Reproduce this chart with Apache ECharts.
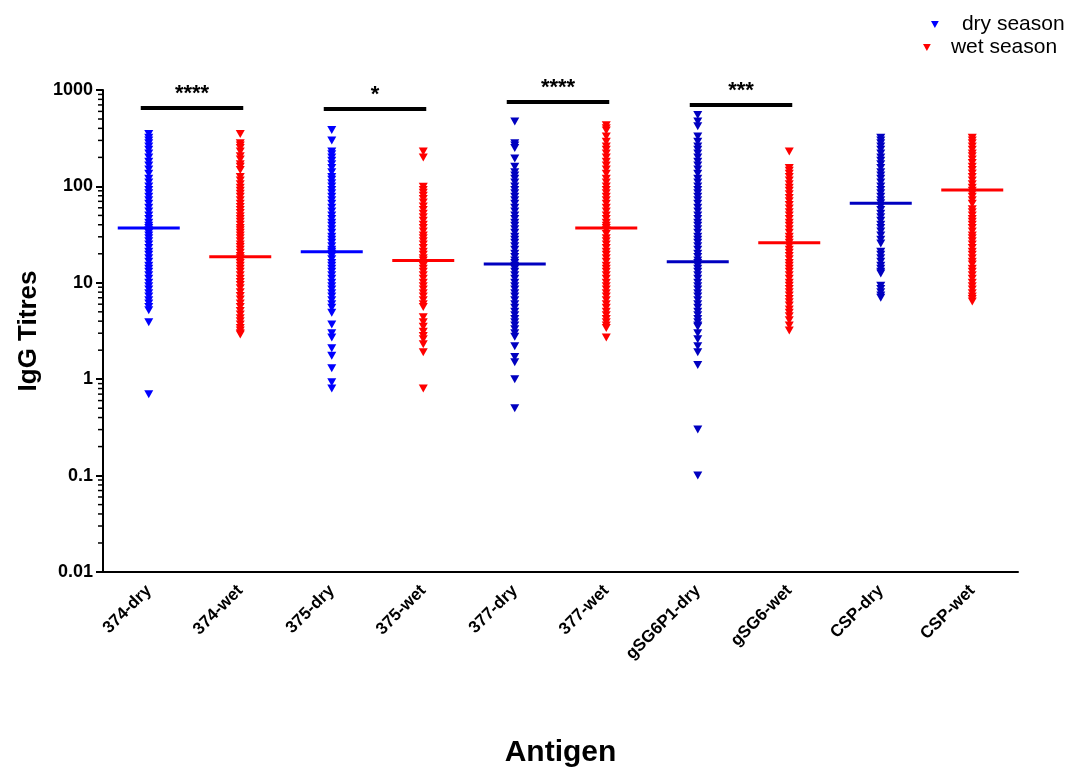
<!DOCTYPE html>
<html>
<head>
    <meta charset="utf-8">
    <title>IgG Titres</title>
    <script src="https://cdn.jsdelivr.net/npm/echarts@6/dist/echarts.min.js"></script>
</head>
<body style="margin:0">
    <div id="main" style="width: 1066px;height:767px;"></div>
    <script type="text/javascript">
        // categories on the x axis
        var categories = ['374-dry', '374-wet', '375-dry', '375-wet', '377-dry', '377-wet',
            'gSG6P1-dry', 'gSG6-wet', 'CSP-dry', 'CSP-wet'];

        // titres, one list per column
        var dry374 = [350, 320, 300, 280, 260, 240, 220, 200, 180, 165, 150, 135, 120, 110, 100, 92, 85, 78, 72, 66,
            60, 55, 50, 46, 42, 39, 37, 35, 33, 31, 29, 27, 25, 23, 21, 19.5, 18, 16.5, 15, 14, 13, 12, 11, 10,
            9.2, 8.5, 7.8, 7.2, 6.6, 6.1, 5.6, 5.2, 3.9, 0.7];
        var wet374 = [350, 280, 265, 250, 230, 205, 190, 170, 160, 148, 125, 115, 105, 97, 90, 84, 78, 72, 66, 61,
            57, 53, 49, 46, 43, 40, 37, 35, 33, 31, 29, 27, 25, 23.5, 22, 20.5, 19, 18, 17, 16, 15, 14, 13, 12,
            11, 10.2, 9.5, 8.8, 8, 7.3, 6.7, 6.1, 5.6, 5.1, 4.7, 4.3, 4, 3.7, 3.4, 3.2, 3.0, 2.9];
        var dry375 = [385, 300, 230, 215, 200, 185, 170, 155, 140, 125, 117, 108, 100, 92, 85, 78, 72, 66, 60, 55,
            50, 46, 42, 39, 36, 33, 30, 28, 26, 24, 22, 21, 20, 19, 17.5, 16, 15, 14, 13, 12, 11, 10, 9.2, 8.5,
            7.8, 7.2, 6.6, 6, 5.5, 4.9, 3.7, 3.0, 2.7, 2.1, 1.75, 1.3, 0.93, 0.8];
        var wet375 = [230, 200, 99, 92, 86, 80, 74, 68, 62, 57, 52, 48, 44, 40, 37, 34, 31, 29, 27, 25, 23, 21,
            19.5, 18, 17, 16, 15, 14, 13, 12, 11, 10, 9.2, 8.5, 7.8, 7.2, 6.6, 6, 5.6, 4.4, 3.9, 3.5, 3.1, 2.8,
            2.6, 2.3, 1.9, 0.8];
        var dry377 = [470, 280, 265, 250, 195, 160, 140, 130, 120, 110, 100, 92, 85, 78, 72, 66, 60, 55, 50, 46,
            42, 39, 36, 33, 30, 28, 26, 24, 22, 20, 18.5, 17, 16, 15, 14, 13, 12, 11, 10, 9.2, 8.5, 7.8, 7.2,
            6.6, 6, 5.5, 5, 4.6, 4.2, 3.9, 3.6, 3.3, 3, 2.75, 2.2, 1.7, 1.5, 1.0, 0.5];
        var wet377 = [430, 400, 380, 330, 290, 260, 240, 220, 200, 180, 165, 150, 135, 120, 110, 100, 92, 85, 78,
            72, 66, 60, 55, 50, 46, 42, 39, 37, 35, 32, 29, 27, 25, 23, 21, 19.5, 18, 16.5, 15, 14, 13, 12, 11,
            10, 9.2, 8.5, 7.8, 7.2, 6.6, 6, 5.5, 5, 4.6, 4.2, 3.9, 3.6, 3.4, 2.7];
        var dryG6 = [550, 470, 420, 330, 290, 260, 240, 220, 200, 180, 165, 150, 135, 120, 110, 100, 92, 85, 78,
            72, 66, 60, 55, 50, 46, 42, 39, 36, 33, 30, 28, 26, 24, 22, 20, 18.5, 17, 16, 15, 14, 13, 12, 11, 10,
            9.2, 8.5, 7.8, 7.2, 6.6, 6, 5.5, 5, 4.6, 4.2, 3.9, 3.6, 3.5, 3.0, 2.6, 2.2, 1.9, 1.4, 0.3, 0.1];
        var wetG6 = [230, 155, 145, 135, 125, 115, 105, 97, 90, 83, 76, 70, 64, 59, 54, 50, 46, 42, 39, 36, 33, 30,
            28, 26, 24, 22, 20.5, 19, 17.5, 16, 15, 14, 13, 12, 11, 10, 9.3, 8.6, 8, 7.4, 6.8, 6.3, 5.8, 5.3,
            4.9, 4.5, 4.1, 3.6, 3.2];
        var dryCSP = [320, 300, 280, 260, 240, 220, 200, 185, 170, 155, 140, 130, 120, 110, 100, 92, 85, 78, 72, 67,
            62, 57, 52, 48, 44, 40, 37, 34, 31, 28, 25.5, 21, 19.5, 18, 16.5, 15, 14, 13, 12.5, 9.3, 8.6, 8,
            7.4, 7];
        var wetCSP = [320, 300, 280, 260, 240, 220, 205, 190, 175, 160, 148, 136, 125, 115, 105, 97, 90, 84, 78, 72,
            66, 58, 54, 50, 46, 43, 40, 37, 34, 31, 29, 27, 25, 23, 21, 19.5, 18, 16.5, 15.5, 14, 13, 12, 11, 10,
            9.2, 8.5, 7.8, 7.2, 6.8, 6.4];

        var columns = [dry374, wet374, dry375, wet375, dry377, wet377, dryG6, wetG6, dryCSP, wetCSP];

        // medians (horizontal bars)
        var medians = [37, 18.6, 21, 17, 15.7, 37, 16.5, 26, 67, 92];

        // significance brackets: from column, to column, height, stars
        var sigFrom = [0, 2, 4, 6];
        var sigTo = [1, 3, 5, 7];
        var sigLevel = [650, 635, 752, 699];
        var sigText = ['****', '*', '****', '***'];

        var yTickLabels = ['0.01', '0.1', '1', '10', '100', '1000'];

        var colColors = ['#0000ff', '#ff0000', '#0000ff', '#ff0000', '#0000c0', '#ff0000',
            '#0000c0', '#ff0000', '#0000c0', '#ff0000'];
        var FONT = 'Liberation Sans, Arial, sans-serif';
        var TRI = 'path://M0,0 L10,0 L5,9 Z';

        var dryData = [], wetData = [], medData = [];
        columns.forEach(function (vals, i) {
            var target = (i % 2 === 0) ? dryData : wetData;
            vals.forEach(function (v) {
                target.push({ value: [categories[i], v], itemStyle: { color: colColors[i] } });
            });
            medData.push({ value: [categories[i], medians[i]], itemStyle: { color: colColors[i] } });
        });

        // log minor ticks 2..9 per decade
        var minorVals = [];
        for (var d = 0.01; d < 1000; d *= 10) {
            for (var m = 2; m <= 9; m++) minorVals.push([categories[0], +(m * d).toPrecision(3)]);
        }

        var sigData = sigFrom.map(function (f, i) {
            return [f, sigTo[i], sigLevel[i], i];
        });

        var myChart = echarts.init(document.getElementById('main'));
        var option = {
            animation: false,
            textStyle: { fontFamily: FONT },
            legend: [{
                left: 926, top: 9,
                itemWidth: 8, itemHeight: 7,
                icon: TRI,
                data: ['dry season'],
                textStyle: { fontSize: 21, color: '#000', fontFamily: FONT, padding: [0, 0, 0, 18] }
            }, {
                left: 918, top: 32,
                itemWidth: 8, itemHeight: 7,
                icon: TRI,
                data: ['wet season'],
                textStyle: { fontSize: 21, color: '#000', fontFamily: FONT, padding: [0, 0, 0, 15] }
            }],
            grid: { left: 103, right: 48, top: 90, bottom: 195, containLabel: false, outerBoundsMode: 'none' },
            xAxis: {
                type: 'category',
                data: categories,
                name: 'Antigen',
                nameLocation: 'middle',
                nameGap: 166,
                nameTextStyle: { fontSize: 30, fontWeight: 'bold', color: '#000', fontFamily: FONT },
                axisLine: { lineStyle: { color: '#000', width: 2 } },
                axisTick: { alignWithLabel: true, length: 6, lineStyle: { width: 2, color: '#000' } },
                axisLabel: { rotate: 45, margin: 16, fontSize: 17, fontWeight: 'bold', color: '#000', fontFamily: FONT },
                splitLine: { show: false }
            },
            yAxis: {
                type: 'log',
                logBase: 10,
                min: 0.01,
                max: 1000,
                name: 'IgG Titres',
                nameLocation: 'middle',
                nameGap: 58,
                nameTextStyle: { fontSize: 26, fontWeight: 'bold', color: '#000', fontFamily: FONT },
                axisLine: { show: true, lineStyle: { color: '#000', width: 2 } },
                axisTick: { show: true, length: 7, lineStyle: { width: 2, color: '#000' } },
                axisLabel: {
                    margin: 10, fontSize: 18, fontWeight: 'bold', color: '#000', fontFamily: FONT,
                    formatter: function (v) {
                        var k = Math.round(Math.log10(v)) + 2;
                        return yTickLabels[k] !== undefined ? yTickLabels[k] : '';
                    }
                },
                splitLine: { show: false }
            },
            series: [{
                name: 'dry season',
                type: 'scatter',
                symbol: TRI,
                symbolSize: [9, 8],
                itemStyle: { color: '#0000ff', opacity: 1 },
                data: dryData,
                silent: true
            }, {
                name: 'wet season',
                type: 'scatter',
                symbol: TRI,
                symbolSize: [9, 8],
                itemStyle: { color: '#ff0000', opacity: 1 },
                data: wetData,
                silent: true
            }, {
                name: 'median',
                type: 'scatter',
                symbol: 'rect',
                symbolSize: [62, 3],
                itemStyle: { opacity: 1 },
                data: medData,
                z: 5,
                silent: true
            }, {
                name: 'minor',
                type: 'custom',
                silent: true,
                data: minorVals,
                renderItem: function (params, api) {
                    var y = api.coord([0, api.value(1)])[1];
                    var x0 = params.coordSys.x;
                    return {
                        type: 'line',
                        shape: { x1: x0 - 5, y1: y, x2: x0, y2: y },
                        style: { stroke: '#000', lineWidth: 1.5 }
                    };
                }
            }, {
                name: 'sig',
                type: 'custom',
                silent: true,
                data: sigData,
                renderItem: function (params, api) {
                    var p0 = api.coord([api.value(0), api.value(2)]);
                    var p1 = api.coord([api.value(1), api.value(2)]);
                    var x0 = p0[0] - 8, x1 = p1[0] + 3, y = p0[1];
                    return {
                        type: 'group',
                        children: [{
                            type: 'rect',
                            shape: { x: x0, y: y - 2, width: x1 - x0, height: 4 },
                            style: { fill: '#000' }
                        }, {
                            type: 'text',
                            style: {
                                text: sigText[api.value(3)],
                                x: (x0 + x1) / 2, y: y - 3,
                                align: 'center', verticalAlign: 'bottom',
                                font: 'bold 22px ' + FONT, fill: '#000'
                            }
                        }]
                    };
                }
            }]
        };
        myChart.setOption(option);
    </script>
</body>
</html>
